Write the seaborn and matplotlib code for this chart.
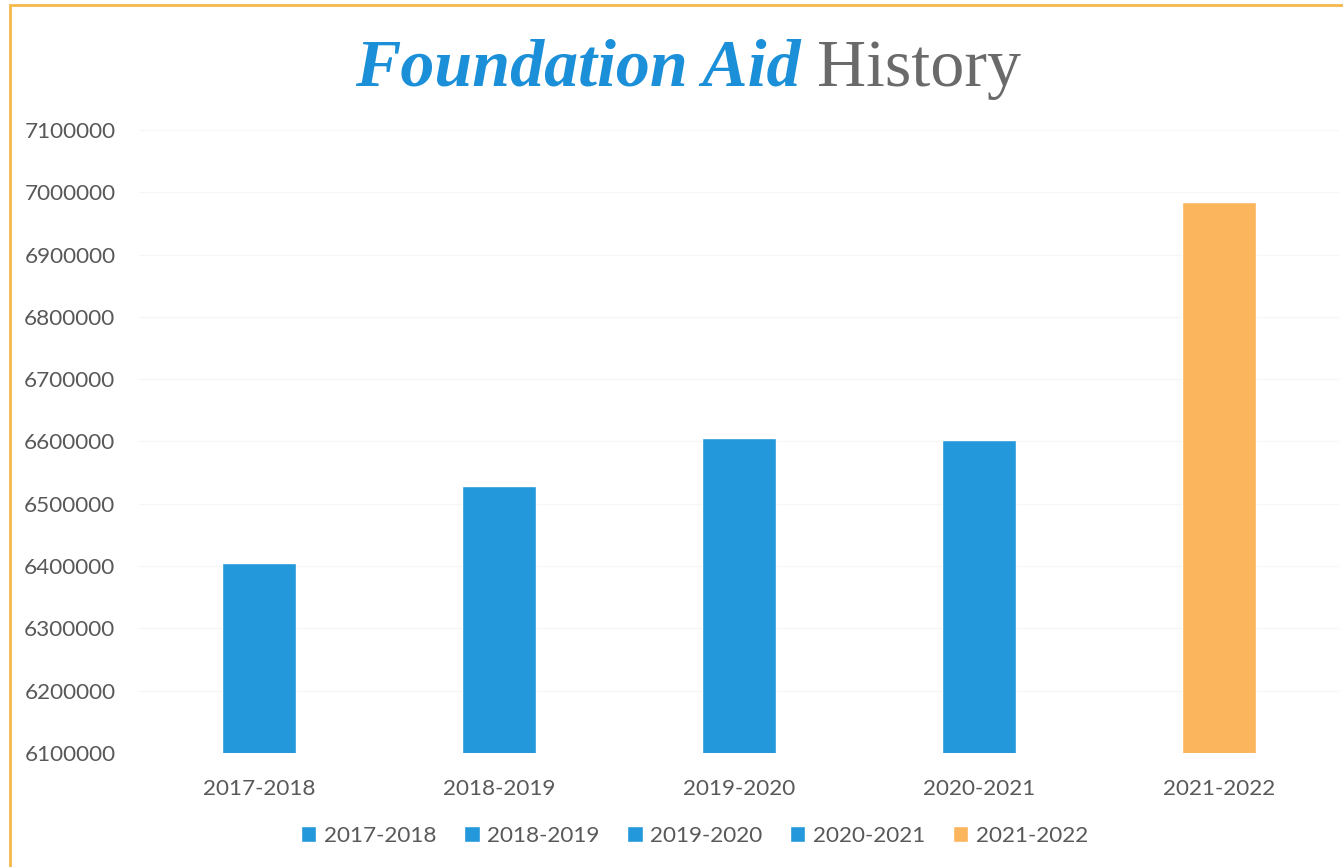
import matplotlib
matplotlib.use("Agg")
import matplotlib.pyplot as plt
import matplotlib.patches as mpatches
import seaborn as sns
import pandas as pd

# Foundation Aid per school year
years = ["2017-2018", "2018-2019", "2019-2020", "2020-2021", "2021-2022"]
aid = [6405000, 6529000, 6606000, 6603000, 6984000]
bar_colors = ["#2398da", "#2398da", "#2398da", "#2398da", "#fbb55c"]
y_ticks = [6100000, 6200000, 6300000, 6400000, 6500000, 6600000, 6700000, 6800000, 6900000, 7000000, 7100000]

sns.set_theme(style="white")
plt.rcParams["font.family"] = ["Lato", "DejaVu Sans"]

df = pd.DataFrame({"year": years, "aid": aid})

fig = plt.figure(figsize=(13.43, 8.67), dpi=100)
ax = fig.add_axes([0.1035, 0.1315, 0.8935, 0.7186])

sns.barplot(data=df, x="year", y="aid", hue="year", palette=bar_colors,
            dodge=False, width=0.31, saturation=1, ax=ax, legend=True)

ax.set_ylim(y_ticks[0], y_ticks[-1])
ax.set_yticks(y_ticks)
ax.set_yticklabels([str(v) for v in y_ticks])
ax.set_xlim(-0.5, len(years) - 0.5)
ax.set_xlabel("")
ax.set_ylabel("")
ax.grid(axis="y", color="#f6f6f6", linewidth=1)
ax.set_axisbelow(True)
for s in ax.spines.values():
    s.set_visible(False)
ax.tick_params(axis="both", length=0, labelsize=16.2, labelcolor="#595959")
ax.tick_params(axis="y", pad=17)
ax.tick_params(axis="x", pad=19)

sns.move_legend(ax, "center", bbox_to_anchor=(0.463, -0.133), ncol=5,
                frameon=False, title=None, fontsize=16.2,
                handlelength=0.7, handleheight=0.7, handletextpad=0.35,
                columnspacing=1.2)
for t in ax.get_legend().get_texts():
    t.set_color("#595959")

# Two-tone title, centred as one line
fig.canvas.draw()
renderer = fig.canvas.get_renderer()
title_y = 1 - 86 / 867
part1 = fig.text(0, title_y, "Foundation Aid", fontsize=49, fontweight="bold",
                 fontstyle="italic", family="Liberation Serif", color="#1b8fd8",
                 va="baseline", ha="left")
part2 = fig.text(0, title_y, " History", fontsize=49, family="Liberation Serif",
                 color="#6a6a6a", va="baseline", ha="left")
w1 = part1.get_window_extent(renderer).width
w2 = part2.get_window_extent(renderer).width
fig_w = fig.get_figwidth() * fig.dpi
start = 688 - (w1 + w2) / 2
part1.set_x(start / fig_w)
part2.set_x((start + w1) / fig_w)

# Thin orange frame around the chart area
fig.patches.append(mpatches.Rectangle((10 / 1343, -0.05), 1.2, 1 - 5 / 867 + 0.05,
                                      transform=fig.transFigure, fill=False,
                                      edgecolor="#f6b84a", linewidth=2))

fig.savefig("out.png", dpi=100)
